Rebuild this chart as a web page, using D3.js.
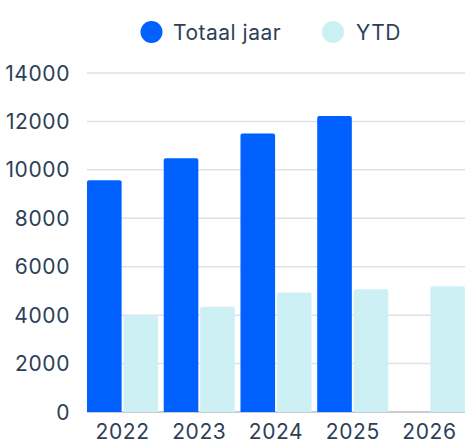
<!DOCTYPE html>
<html>
<head>
<meta charset="utf-8">
<script src="https://cdn.jsdelivr.net/npm/d3@7"></script>
<style>
  body { margin: 0; background: #fff; }
  svg text { font-family: "Inter", "Noto Sans", sans-serif; fill: #2e3f58; }
</style>
</head>
<body>
<svg></svg>
<script>
  const years = ['2022', '2023', '2024', '2025', '2026'];
  const totaalJaar = [9570, 10480, 11500, 12220, 0];
  const ytd = [4000, 4350, 4930, 5070, 5190];
  const seriesNames = ['Totaal jaar', 'YTD'];
  const yTicks = [0, 2000, 4000, 6000, 8000, 10000, 12000, 14000];

  const BLUE = '#0061fe';
  const CYAN = '#cdf0f5';

  let width = 465,
      height = 441;

  const svg = d3.select('svg')
    .attr('width', width)
    .attr('height', height);

  const x0 = d3.scaleBand().domain(years).range([87, 465]).paddingInner(0.074).paddingOuter(0);
  const x1 = d3.scaleBand().domain(seriesNames).range([0, x0.bandwidth()]).paddingInner(0.05);
  const y = d3.scaleLinear().domain([0, 14000]).range([412, 73]);
  const color = d3.scaleOrdinal().domain(seriesNames).range([BLUE, CYAN]);

  // gridlines
  svg.append('g')
    .selectAll('line')
    .data(yTicks.slice(1))
    .enter()
    .append('line')
    .attr('x1', 87).attr('x2', width)
    .attr('y1', d => y(d)).attr('y2', d => y(d))
    .attr('stroke', '#dde1e7')
    .attr('stroke-width', 1.5);

  // axis baseline
  svg.append('line')
    .attr('x1', 87).attr('x2', width)
    .attr('y1', y(0)).attr('y2', y(0))
    .attr('stroke', '#b7bec8')
    .attr('stroke-width', 1.5);

  // y labels
  svg.append('g')
    .selectAll('text')
    .data(yTicks)
    .enter()
    .append('text')
    .attr('x', 70)
    .attr('y', d => y(d))
    .attr('dy', '0.36em')
    .attr('text-anchor', 'end')
    .attr('font-size', 21)
    .attr('letter-spacing', 0.6)
    .text(d => d);

  // bars
  const rows = years.map((yr, i) => ({ year: yr, values: [
    { key: 'Totaal jaar', value: totaalJaar[i] },
    { key: 'YTD', value: ytd[i] }
  ]}));

  const groups = svg.append('g')
    .selectAll('g')
    .data(rows)
    .enter()
    .append('g')
    .attr('transform', d => 'translate(' + x0(d.year) + ',0)');

  groups.selectAll('path')
    .data(d => d.values.filter(v => v.value > 0))
    .enter()
    .append('path')
    .attr('fill', d => color(d.key))
    .attr('d', d => {
      const bx = x1(d.key), bw = x1.bandwidth();
      const top = y(d.value), bot = y(0), r = 2;
      return 'M' + bx + ',' + bot +
        'V' + (top + r) +
        'Q' + bx + ',' + top + ' ' + (bx + r) + ',' + top +
        'H' + (bx + bw - r) +
        'Q' + (bx + bw) + ',' + top + ' ' + (bx + bw) + ',' + (top + r) +
        'V' + bot + 'Z';
    });

  // x labels
  svg.append('g')
    .selectAll('text')
    .data(years)
    .enter()
    .append('text')
    .attr('x', d => x0(d) + x0.bandwidth() / 2)
    .attr('y', 439)
    .attr('text-anchor', 'middle')
    .attr('font-size', 21)
    .attr('letter-spacing', 0.6)
    .text(d => d);

  // legend
  const legendPos = [{ cx: 151.5, tx: 173 }, { cx: 333, tx: 356 }];
  const legend = svg.append('g')
    .selectAll('g')
    .data(seriesNames)
    .enter()
    .append('g');

  legend.append('circle')
    .attr('cx', (d, i) => legendPos[i].cx)
    .attr('cy', 32)
    .attr('r', 11)
    .attr('fill', d => color(d));

  legend.append('text')
    .attr('x', (d, i) => legendPos[i].tx)
    .attr('y', 32)
    .attr('dy', '0.36em')
    .attr('font-size', 21)
    .attr('letter-spacing', 0.5)
    .text(d => d);
</script>
</body>
</html>
